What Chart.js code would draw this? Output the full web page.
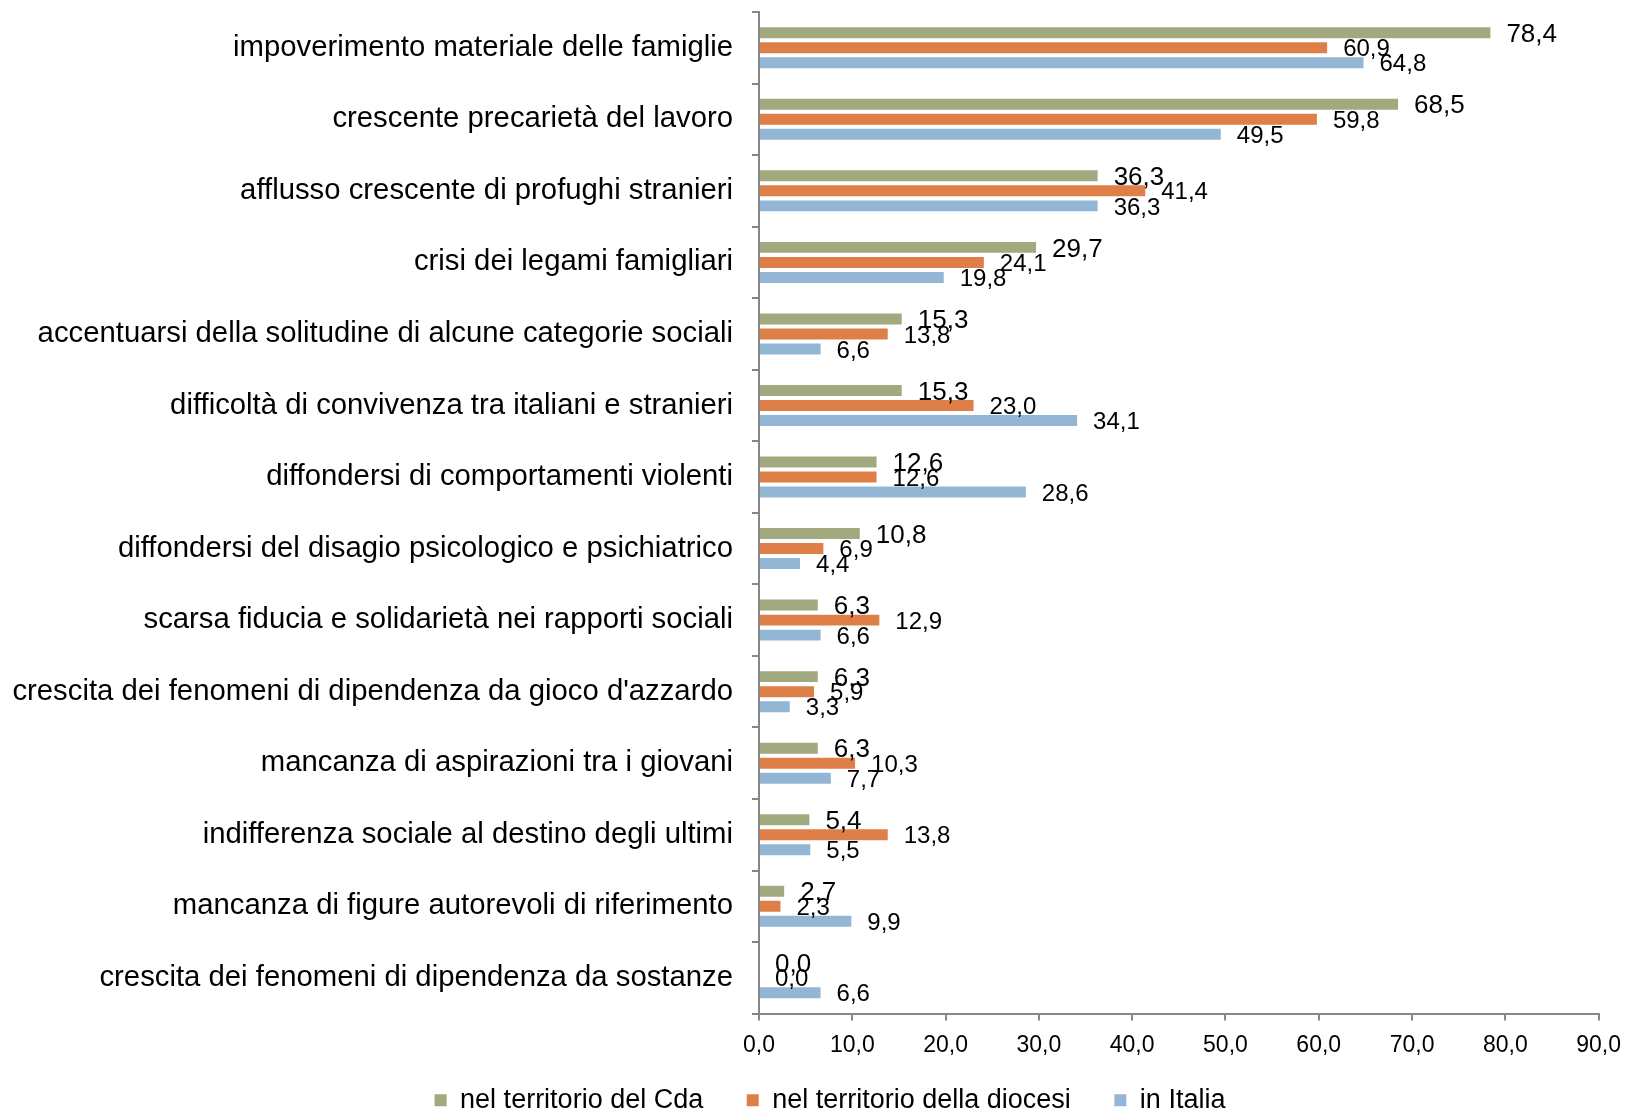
<!DOCTYPE html>
<html>
<head>
<meta charset="utf-8">
<script src="https://cdn.jsdelivr.net/npm/chart.js@4/dist/chart.umd.min.js"></script>
<style>
  body { margin: 0; background: #fff; }
  canvas { display: block; }
</style>
</head>
<body>
<canvas id="chart" width="1632" height="1110"></canvas>
<script>
// categorie (dall'alto verso il basso)
const categories = [
  "impoverimento materiale delle famiglie",
  "crescente precarietà del lavoro",
  "afflusso crescente di profughi stranieri",
  "crisi dei legami famigliari",
  "accentuarsi della solitudine di alcune categorie sociali",
  "difficoltà di convivenza tra italiani e stranieri",
  "diffondersi di comportamenti violenti",
  "diffondersi del disagio psicologico e psichiatrico",
  "scarsa fiducia e solidarietà nei rapporti sociali",
  "crescita dei fenomeni di dipendenza da gioco d'azzardo",
  "mancanza di aspirazioni tra i giovani",
  "indifferenza sociale al destino degli ultimi",
  "mancanza di figure autorevoli di riferimento",
  "crescita dei fenomeni di dipendenza da sostanze",
];

const seriesNames = ["nel territorio del Cda", "nel territorio della diocesi", "in Italia"];

const cdaValues = [78.4, 68.5, 36.3, 29.7, 15.3, 15.3, 12.6, 10.8, 6.3, 6.3, 6.3, 5.4, 2.7, 0.0];
const diocesiValues = [60.9, 59.8, 41.4, 24.1, 13.8, 23.0, 12.6, 6.9, 12.9, 5.9, 10.3, 13.8, 2.3, 0.0];
const italiaValues = [64.8, 49.5, 36.3, 19.8, 6.6, 34.1, 28.6, 4.4, 6.6, 3.3, 7.7, 5.5, 9.9, 6.6];

const xTicks = [0, 10, 20, 30, 40, 50, 60, 70, 80, 90];

const FONT = "'Liberation Sans', Arial, sans-serif";
const AXIS_GREY = "#868686";
const LEFT_PAD = 58;

function formatComma(value) {
  return Number(value).toFixed(1).replace(".", ",");
}

// etichette dei valori a destra delle barre
const valueLabels = {
  id: "valueLabels",
  afterLayout(chart) {
    // le etichette lunghe dell'asse y non vanno tagliate dal padding sinistro
    chart.scales.y.left = 0;
  },
  afterDatasetsDraw(chart) {
    const { ctx } = chart;
    ctx.save();
    ctx.fillStyle = "#000";
    ctx.textBaseline = "middle";
    ctx.textAlign = "left";
    chart.data.datasets.forEach((dataset, di) => {
      const meta = chart.getDatasetMeta(di);
      ctx.font = (di === 0 ? "26px " : "24px ") + FONT;
      meta.data.forEach((bar, i) => {
        ctx.fillText(formatComma(dataset.data[i]), bar.x + 16, bar.y + 2);
      });
    });
    ctx.restore();
  },
};

new Chart(document.getElementById("chart"), {
  type: "bar",
  data: {
    labels: categories,
    datasets: [
      { label: seriesNames[0], data: cdaValues, backgroundColor: "#a3a97f" },
      { label: seriesNames[1], data: diocesiValues, backgroundColor: "#df7f48" },
      { label: seriesNames[2], data: italiaValues, backgroundColor: "#94b6d5" },
    ],
  },
  options: {
    indexAxis: "y",
    responsive: false,
    animation: false,
    barPercentage: 0.73,
    categoryPercentage: 0.63,
    layout: { padding: { top: 12, right: 30, left: LEFT_PAD, bottom: -13.7 } },
    plugins: {
      tooltip: { enabled: false },
      legend: {
        position: "bottom",
        labels: {
          color: "#000",
          font: { family: FONT, size: 27 },
          boxWidth: 12,
          boxHeight: 12,
          padding: 16.5,
          // spazio extra fra le voci della legenda
          generateLabels: (chart) => {
            const items = Chart.defaults.plugins.legend.labels.generateLabels(chart);
            items.forEach((item, i) => {
              if (i < items.length - 1) item.text += "\u2002\u2002";
            });
            return items;
          },
        },
      },
    },
    scales: {
      x: {
        min: 0,
        max: 90,
        afterBuildTicks: (scale) => {
          scale.ticks = xTicks.map((v) => ({ value: v }));
        },
        ticks: {
          color: "#000",
          font: { family: FONT, size: 23 },
          padding: 11,
          callback: (value) => formatComma(value),
        },
        grid: {
          drawOnChartArea: false,
          color: AXIS_GREY,
          lineWidth: 2,
          tickLength: 7,
        },
        border: { color: AXIS_GREY, width: 2 },
      },
      y: {
        afterFit: (scale) => {
          scale.width = 759 - LEFT_PAD;
          scale.paddingTop = 0;
          scale.paddingBottom = 0;
        },
        ticks: {
          color: "#000",
          font: { family: FONT, size: 29.3 },
          padding: 19,
          autoSkip: false,
        },
        grid: {
          offset: true,
          drawOnChartArea: false,
          color: AXIS_GREY,
          lineWidth: 2,
          tickLength: 7,
        },
        border: { color: AXIS_GREY, width: 2 },
      },
    },
  },
  plugins: [valueLabels],
});
</script>
</body>
</html>
